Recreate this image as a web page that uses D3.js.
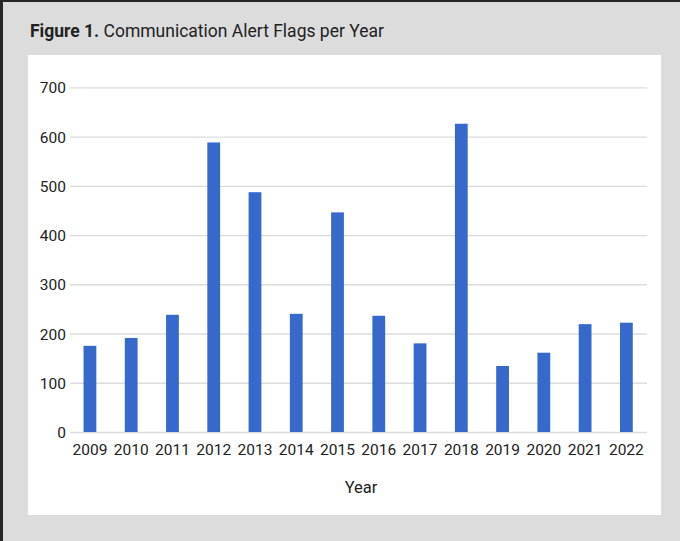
<!DOCTYPE html>
<html>
<head>
<meta charset="utf-8">
<script src="https://cdn.jsdelivr.net/npm/d3@7"></script>
<style>
  html, body { margin: 0; padding: 0; background: #dcdcdd; }
  svg { display: block; }
  text { font-family: Roboto, "Open Sans", sans-serif; fill: #222; }
</style>
</head>
<body>
<svg id="chart"></svg>
<script>
// Yearly counts of communication alert flags
const years = ['2009', '2010', '2011', '2012', '2013', '2014', '2015',
               '2016', '2017', '2018', '2019', '2020', '2021', '2022'];
const flags = [175, 191, 238, 588, 487, 240, 446, 236, 180, 626, 134, 161, 219, 222];
const yTicks = [0, 100, 200, 300, 400, 500, 600, 700];

const width = 680;
const height = 541;

const svg = d3.select('#chart')
    .attr('width', width)
    .attr('height', height);

// page background + dark frame on top/left
svg.append('rect')
    .attr('width', width).attr('height', height)
    .attr('fill', '#dcdcdd');
svg.append('rect')
    .attr('x', 0).attr('y', 0).attr('width', width).attr('height', 2)
    .attr('fill', '#262626');
svg.append('rect')
    .attr('x', 0).attr('y', 0).attr('width', 3).attr('height', height)
    .attr('fill', '#262626');

// title
let title = svg.append('text')
    .attr('x', 30)
    .attr('y', 37)
    .style('font-size', '17.5px');
title.append('tspan').style('font-weight', 'bold').text('Figure 1.');
title.append('tspan').text(' Communication Alert Flags per Year');

// white chart panel
svg.append('rect')
    .attr('x', 28).attr('y', 55)
    .attr('width', 633).attr('height', 460)
    .attr('fill', '#ffffff');

// scales
let xScale = d3.scaleBand()
    .domain(years)
    .range([69.3, 647])
    .paddingInner(0.69)
    .paddingOuter(0.345);

let yScale = d3.scaleLinear()
    .domain([0, 700])
    .range([432, 87.3]);

// gridlines
let yGrid = d3.axisLeft(yScale)
    .tickValues(yTicks)
    .tickSize(-(647 - 70))
    .tickFormat('');

let gGrid = svg.append('g')
    .attr('transform', 'translate(70, 0)')
    .call(yGrid);
gGrid.select('.domain').remove();
gGrid.selectAll('line')
    .attr('stroke', '#dcdcdc')
    .attr('stroke-width', 1.3);

// y axis labels
let yAxis = d3.axisLeft(yScale)
    .tickValues(yTicks)
    .tickSize(0)
    .tickPadding(0);

let gY = svg.append('g')
    .attr('transform', 'translate(66, 0)')
    .call(yAxis);
gY.select('.domain').remove();
gY.selectAll('text')
    .style('font-size', '15.5px')
    .attr('fill', '#222')
    .attr('dy', '0.36em');

// bars
svg.append('g')
    .selectAll('rect')
    .data(years)
    .enter()
    .append('rect')
    .attr('x', (d) => xScale(d))
    .attr('y', (d, i) => yScale(flags[i]))
    .attr('width', xScale.bandwidth())
    .attr('height', (d, i) => yScale(0) - yScale(flags[i]))
    .attr('fill', '#3769cc');

// x axis labels
let xAxis = d3.axisBottom(xScale)
    .tickSize(0)
    .tickPadding(0);

let gX = svg.append('g')
    .attr('transform', 'translate(0, 444)')
    .call(xAxis);
gX.select('.domain').remove();
gX.selectAll('text')
    .style('font-size', '15.5px')
    .attr('fill', '#222')
    .attr('dy', '0.71em');

// axis title
svg.append('text')
    .attr('x', 361)
    .attr('y', 493)
    .attr('text-anchor', 'middle')
    .style('font-size', '16.5px')
    .text('Year');
</script>
</body>
</html>
